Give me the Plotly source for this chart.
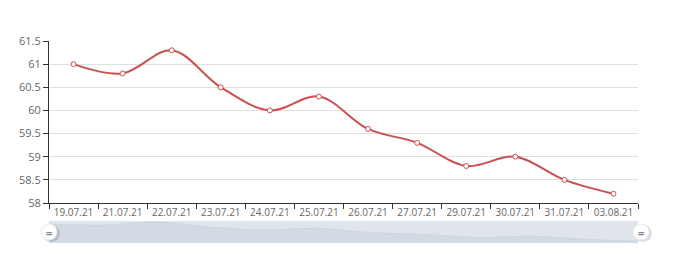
import plotly.graph_objects as go

dates = ["19.07.21", "21.07.21", "22.07.21", "23.07.21", "24.07.21", "25.07.21",
         "26.07.21", "27.07.21", "29.07.21", "30.07.21", "31.07.21", "03.08.21"]
values = [61.0, 60.8, 61.3, 60.5, 60.0, 60.3, 59.6, 59.3, 58.8, 59.0, 58.5, 58.2]
y_ticks = [58, 58.5, 59, 59.5, 60, 60.5, 61, 61.5]

W, H = 680, 253
L, R, T, B = 49, 42, 41, 10
pw = W - L - R
ph = H - T - B
main_bottom = (H - B - 203) / ph
slider_top = (H - B - 221) / ph
hc = (H - B - 232) / ph  # handle centre (paper)

fig = go.Figure()

# main line
fig.add_trace(go.Scatter(
    x=dates, y=values, mode="lines+markers",
    line=dict(color="#c9504f", width=2, shape="spline", smoothing=1.0),
    marker=dict(symbol="circle", size=5, color="white", line=dict(color="#c9504f", width=1)),
    hoverinfo="x+y", showlegend=False, xaxis="x", yaxis="y"))

# slider data shadow
fig.add_trace(go.Scatter(
    x=list(range(len(values))), y=values, mode="lines",
    line=dict(color="#cdd5df", width=1, shape="spline"),
    fill="tozeroy", fillcolor="#d3dae3",
    hoverinfo="skip", showlegend=False, xaxis="x2", yaxis="y2"))

fig.update_layout(
    width=W, height=H,
    margin=dict(l=L, r=R, t=T, b=B, autoexpand=False),
    paper_bgcolor="white", plot_bgcolor="white",
    font=dict(family="Open Sans, sans-serif", size=10.5, color="#666"),
    xaxis=dict(
        type="category", domain=[0, 1], anchor="y", automargin=False,
        showgrid=False, showline=True, linecolor="#333", linewidth=1,
        ticks="outside", ticklen=5, tickcolor="#333", tickson="boundaries",
        tickangle=0,
        tickfont=dict(family="Open Sans, sans-serif", size=10, color="#666"),
        range=[-0.5, len(dates) - 0.5],
        fixedrange=True),
    yaxis=dict(
        domain=[main_bottom, 1], anchor="x", automargin=False,
        range=[58, 61.5], tickvals=y_ticks,
        ticktext=[("%g" % v) for v in y_ticks],
        showgrid=True, gridcolor="#e0e0e0", gridwidth=1,
        showline=True, linecolor="#333", linewidth=1,
        ticks="outside", ticklen=5, tickcolor="#333",
        tickfont=dict(size=11, color="#666"), zeroline=False, fixedrange=True),
    xaxis2=dict(domain=[0, 1], anchor="y2", range=[0, len(values) - 1],
                visible=False, fixedrange=True, automargin=False),
    yaxis2=dict(domain=[0, slider_top], anchor="x2", range=[57.9, 61.5],
                visible=False, fixedrange=True, automargin=False),
    shapes=[
        dict(type="rect", xref="paper", yref="paper", x0=0, x1=1, y0=0, y1=slider_top,
             fillcolor="#e0e5ec", line=dict(width=0), layer="below"),
        # handle shadows
        dict(type="circle", xref="paper", yref="paper",
             x0=-7 / pw, x1=11 / pw, y0=hc - 10 / ph, y1=hc + 7 / ph,
             fillcolor="rgba(0,0,0,0.13)", line=dict(width=0), layer="above"),
        dict(type="circle", xref="paper", yref="paper",
             x0=1 - 4 / pw, x1=1 + 14 / pw, y0=hc - 10 / ph, y1=hc + 7 / ph,
             fillcolor="rgba(0,0,0,0.13)", line=dict(width=0), layer="above"),
        # handles
        dict(type="circle", xref="paper", yref="paper",
             x0=-8 / pw, x1=8 / pw, y0=hc - 8 / ph, y1=hc + 8 / ph,
             fillcolor="white", line=dict(color="#e6e9ee", width=1), layer="above"),
        dict(type="circle", xref="paper", yref="paper",
             x0=1 - 5 / pw, x1=1 + 11 / pw, y0=hc - 8 / ph, y1=hc + 8 / ph,
             fillcolor="white", line=dict(color="#e6e9ee", width=1), layer="above"),
    ],
    annotations=[
        dict(text="<b>=</b>", xref="paper", yref="paper", x=0, y=hc,
             showarrow=False, font=dict(size=11, color="#7f8894"), xanchor="center", yanchor="middle"),
        dict(text="<b>=</b>", xref="paper", yref="paper", x=1 + 3 / pw, y=hc,
             showarrow=False, font=dict(size=11, color="#7f8894"), xanchor="center", yanchor="middle"),
    ],
)

fig.write_html("out.html")
